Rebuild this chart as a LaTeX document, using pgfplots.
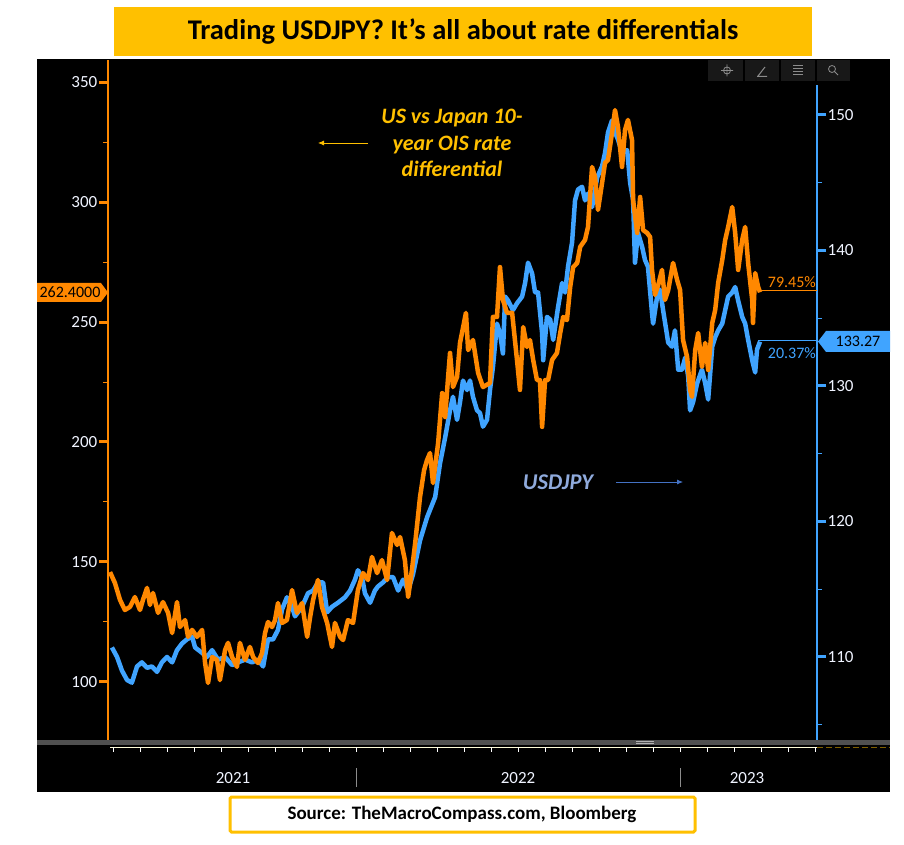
\documentclass[border=0pt]{standalone}
\usepackage{fontspec}
\setmainfont{Carlito}
\usepackage{pgfplots}
\pgfplotsset{compat=1.18}
\usetikzlibrary{arrows.meta}
\definecolor{ttl}{RGB}{255,192,0}
\definecolor{ora}{RGB}{255,136,0}
\definecolor{blu}{RGB}{64,164,255}
\definecolor{usd}{RGB}{143,170,220}
\definecolor{arrb}{RGB}{68,114,196}
\definecolor{tickw}{RGB}{240,244,255}
\definecolor{bar}{RGB}{80,80,80}
\definecolor{btn}{RGB}{24,24,24}
\definecolor{icon}{RGB}{140,140,140}
\pgfplotsset{base/.style={at={(108pt,104pt)}, anchor=south west, scale only axis,
  width=709pt, height=680pt, xmin=2.815, xmax=29.07, hide x axis,
  /pgf/number format/assume math mode=true, tick align=outside,
  major tick length=9pt, minor tick length=5pt, y axis line style={draw=none},
  yticklabel style={font=\fontsize{17}{17}\selectfont, text=tickw, inner sep=1.5pt}}}
\begin{document}
\begin{tikzpicture}[x=1pt,y=1pt]
\fill[white] (0,0) rectangle (904,844);
\fill[ttl] (114,788) rectangle (812,837);
\node[font=\bfseries\fontsize{28.5}{28.5}\selectfont] at (463,812) {Trading USDJPY? It’s all about rate differentials};
\fill[black] (37,52) rectangle (890,785);
% toolbar
\fill[btn] (708,763) rectangle (743,784);
\fill[btn] (745,763) rectangle (779,784);
\fill[btn] (781,763) rectangle (815,784);
\fill[btn] (817,763) rectangle (850,784);
\draw[icon, line width=0.8] (727,773.5) circle (3.5) (721,773.5) -- (733,773.5) (727,767.5) -- (727,779.5);
\draw[icon, line width=1] (758,768) -- (765,777) (757,767.5) -- (767,767.5);
\draw[icon, line width=1] (793,778) -- (803,778) (793,775) -- (803,775) (793,772) -- (803,772) (793,769) -- (803,769);
\draw[icon, line width=0.8] (832,775) circle (3.5) (834.5,772.5) -- (838,769);
% blue series (right axis)
\begin{axis}[base, axis y line*=right, ymin=103.87, ymax=154.06,
  ytick={110,120,...,150}, minor ytick={105,115,...,145},
  major tick style={blu, line width=3pt}, minor tick style={blu, line width=1pt}]
\addplot[blu, line width=4.5pt, line join=round] coordinates {
(2.96,110.7)(3.15,110.0)(3.33,109.0)(3.52,108.3)(3.70,108.1)(3.89,109.3)(4.07,109.6)(4.26,109.2)(4.44,109.3)(4.63,108.9)(4.81,109.6)(5.00,110.0)(5.19,109.6)(5.37,110.5)(5.56,111.0)(5.74,111.3)(5.93,111.5)(6.04,110.7)(6.30,110.3)(6.48,110.0)(6.67,110.5)(6.89,109.8)(7.15,110.0)(7.41,109.4)(7.63,109.6)(7.89,109.8)(8.15,109.6)(8.37,109.8)(8.56,109.3)(8.74,111.3)(8.93,111.3)(9.11,112.0)(9.26,113.5)(9.44,114.4)(9.63,113.7)(9.74,113.0)(10.00,113.7)(10.22,114.7)(10.41,114.9)(10.59,115.5)(10.78,115.5)(10.93,113.3)(11.11,113.7)(11.33,114.0)(11.59,114.4)(11.78,114.9)(11.96,115.7)(12.07,116.4)(12.22,115.9)(12.33,114.7)(12.52,114.0)(12.70,114.9)(12.81,115.2)(13.00,115.5)(13.19,115.9)(13.37,115.9)(13.56,114.9)(13.74,115.7)(13.93,114.9)(14.11,116.1)(14.37,118.6)(14.63,120.3)(14.93,121.8)(15.11,124.3)(15.30,126.2)(15.48,128.2)(15.59,129.2)(15.74,127.5)(15.85,128.8)(15.96,130.4)(16.11,129.7)(16.22,130.4)(16.33,129.2)(16.48,128.2)(16.59,128.0)(16.70,127.0)(16.85,127.5)(16.96,129.7)(17.07,131.4)(17.22,134.6)(17.33,133.9)(17.44,132.4)(17.52,136.6)(17.63,136.3)(17.81,135.6)(17.96,136.1)(18.15,136.6)(18.26,137.6)(18.37,139.1)(18.52,138.3)(18.63,136.9)(18.74,136.9)(18.89,133.9)(18.93,131.9)(19.07,135.1)(19.19,134.9)(19.30,133.4)(19.48,135.8)(19.63,137.6)(19.74,136.9)(19.85,138.8)(20.00,140.6)(20.11,143.7)(20.22,144.5)(20.37,144.7)(20.48,143.7)(20.59,144.2)(20.74,143.2)(20.93,145.4)(21.11,146.2)(21.22,147.2)(21.33,148.7)(21.48,149.6)(21.59,148.7)(21.70,148.2)(21.85,147.2)(22.04,147.4)(22.15,145.0)(22.26,143.7)(22.33,139.1)(22.44,141.3)(22.59,140.3)(22.70,139.3)(22.81,138.8)(22.96,135.4)(23.00,134.6)(23.15,136.6)(23.26,137.1)(23.37,135.6)(23.56,133.2)(23.70,132.9)(23.81,134.1)(23.93,131.2)(24.07,131.2)(24.19,132.1)(24.30,130.7)(24.37,128.2)(24.48,128.8)(24.63,130.2)(24.81,131.2)(24.93,130.2)(25.04,129.0)(25.19,132.9)(25.30,133.6)(25.41,134.1)(25.56,134.6)(25.67,135.6)(25.78,136.6)(25.93,136.9)(26.04,137.3)(26.15,136.3)(26.30,135.1)(26.41,134.6)(26.52,133.4)(26.67,131.9)(26.78,131.0)(26.85,132.7)(26.96,133.27)
};
\end{axis}
% orange series (left axis)
\begin{axis}[base, axis y line*=left, ymin=75.83, ymax=359.17,
  ytick={100,150,...,350}, minor ytick={125,175,...,325},
  major tick style={ora, line width=3pt}, minor tick style={ora, line width=1pt}]
\addplot[ora, line width=4.5pt, line join=round] coordinates {
(2.89,145.8)(3.07,141.3)(3.26,134.2)(3.44,130.0)(3.63,131.3)(3.81,135.4)(4.00,130.0)(4.11,134.2)(4.26,139.2)(4.37,132.1)(4.48,137.1)(4.67,128.8)(4.85,133.3)(5.04,128.8)(5.19,120.4)(5.37,133.3)(5.48,122.9)(5.67,125.8)(5.78,118.8)(5.93,121.7)(6.11,118.8)(6.30,121.7)(6.41,107.9)(6.52,99.6)(6.67,110.4)(6.85,109.2)(6.96,100.8)(7.15,113.3)(7.26,116.3)(7.41,110.4)(7.59,106.3)(7.70,116.3)(7.89,109.2)(8.07,114.6)(8.19,110.4)(8.37,107.9)(8.52,112.1)(8.63,120.4)(8.74,125.0)(8.89,122.9)(9.00,125.8)(9.11,132.9)(9.26,124.6)(9.44,125.8)(9.63,138.3)(9.81,128.8)(10.00,132.9)(10.19,118.8)(10.30,127.1)(10.41,134.2)(10.59,142.5)(10.74,131.3)(10.93,124.6)(11.11,114.6)(11.22,124.6)(11.41,118.8)(11.52,117.5)(11.70,125.8)(11.89,124.6)(12.07,138.3)(12.26,145.4)(12.44,142.5)(12.59,152.1)(12.78,145.4)(12.96,150.8)(13.15,142.5)(13.33,162.1)(13.52,157.1)(13.63,160.4)(13.81,150.8)(13.93,135.4)(14.07,146.7)(14.19,157.9)(14.37,177.1)(14.52,188.3)(14.63,192.5)(14.74,195.4)(14.85,182.9)(15.04,199.6)(15.19,220.4)(15.30,210.4)(15.41,227.1)(15.48,237.1)(15.59,222.9)(15.74,227.1)(15.85,241.3)(16.07,253.8)(16.15,238.3)(16.33,242.5)(16.52,228.8)(16.70,222.9)(16.96,224.6)(17.07,252.1)(17.22,252.1)(17.33,272.9)(17.44,259.2)(17.59,253.8)(17.78,253.8)(17.96,234.2)(18.07,221.7)(18.19,247.9)(18.33,239.6)(18.44,242.5)(18.56,234.2)(18.70,225.8)(18.81,225.8)(18.89,206.3)(19.00,225.8)(19.11,225.8)(19.26,234.2)(19.44,237.1)(19.56,245.4)(19.67,252.1)(19.81,250.8)(19.93,264.6)(20.04,272.9)(20.19,274.6)(20.30,281.3)(20.48,284.2)(20.59,289.6)(20.74,314.6)(20.85,310.4)(20.96,296.7)(21.11,307.9)(21.22,316.3)(21.33,317.5)(21.48,328.8)(21.59,338.3)(21.70,331.3)(21.85,314.6)(21.96,330.0)(22.07,334.2)(22.22,325.8)(22.26,300.8)(22.41,287.1)(22.52,302.1)(22.63,288.3)(22.78,287.1)(22.89,285.4)(22.96,271.7)(23.07,261.3)(23.19,265.4)(23.33,271.7)(23.44,259.2)(23.56,263.3)(23.74,274.6)(23.89,267.5)(24.00,263.3)(24.11,242.5)(24.26,235.4)(24.37,221.7)(24.44,218.8)(24.56,238.3)(24.67,245.4)(24.81,231.3)(24.93,241.3)(25.04,230.0)(25.19,249.6)(25.30,255.0)(25.41,266.3)(25.56,275.8)(25.67,284.2)(25.78,289.6)(25.93,297.9)(26.04,287.1)(26.15,271.7)(26.30,284.2)(26.41,289.6)(26.52,274.6)(26.67,259.2)(26.70,249.6)(26.78,270.4)(26.89,264.6)(26.96,262.4)
};
\end{axis}
% axis lines
\draw[ora, line width=1.2] (108,104) -- (108,784);
\draw[blu, line width=1.2] (817,104) -- (817,759);
% last value tags
\fill[ora] (37,542) -- (101,542) -- (108,551.5) -- (101,561) -- (37,561) -- cycle;
\node[font=\fontsize{16}{16}\selectfont, text=black] at (70,551.5) {262.4000};
\fill[blu] (818,502.5) -- (826,513) -- (890,513) -- (890,492) -- (826,492) -- cycle;
\node[font=\fontsize{16}{16}\selectfont, text=black] at (858,502.5) {133.27};
\draw[ora, line width=1] (758,553) -- (817,553);
\node[anchor=base east, inner sep=0, font=\fontsize{16}{16}\selectfont, text=ora] at (816,556) {79.45\%};
\draw[blu, line width=1] (758,503) -- (817,503);
\node[anchor=base east, inner sep=0, font=\fontsize{16}{16}\selectfont, text=blu] at (816,485) {20.37\%};
% annotations
\node[align=center, text=ttl, font=\bfseries\itshape\fontsize{22}{26.5}\selectfont] at (452,701) {US vs Japan 10-\\year OIS rate\\differential};
\draw[ttl, line width=0.8, -{Latex[length=6pt,width=5pt]}] (368,701) -- (318,701);
\node[text=usd, font=\bfseries\itshape\fontsize{22.5}{22.5}\selectfont] at (558,362) {USDJPY};
\draw[arrb, line width=0.8, -{Latex[length=6pt,width=5pt]}] (616,362) -- (683,362);
% bottom bar and time axis
\fill[bar] (37,99) rectangle (890,104);
\draw[white!70!black, line width=0.6] (636,102.5) -- (654,102.5) (636,100.5) -- (654,100.5);
\draw[white!85!yellow, line width=1] (110,97) -- (817,97);
\draw[ttl!50!black, line width=1, dash pattern=on 6pt off 3pt] (817,97) -- (890,97);
\foreach \m in {3,...,29} { \draw[white, line width=0.8] ({32+27*\m},97) -- ({32+27*\m},92); }
\draw[white!55!black, line width=1] (356,57) -- (356,76) (680,57) -- (680,76);
\node[text=tickw, font=\fontsize{17}{17}\selectfont] at (233,66) {2021};
\node[text=tickw, font=\fontsize{17}{17}\selectfont] at (518,66) {2022};
\node[text=tickw, font=\fontsize{17}{17}\selectfont] at (747,66) {2023};
% source box
\draw[ttl, line width=3, fill=white, rounded corners=1.5] (230,12) rectangle (695,47);
\node[font=\bfseries\fontsize{19}{19}\selectfont] at (462,29.5) {Source: TheMacroCompass.com, Bloomberg};
\pgfresetboundingbox
\path[use as bounding box] (0,0) rectangle (904,844);
\end{tikzpicture}
\end{document}
